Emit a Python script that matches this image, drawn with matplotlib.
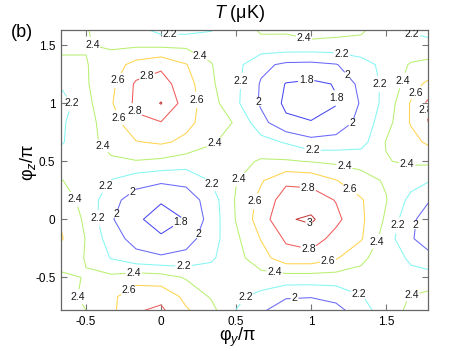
import numpy as np
import matplotlib
matplotlib.use("Agg")
import matplotlib.pyplot as plt

plt.rcParams['font.family'] = ['Liberation Sans', 'DejaVu Sans']
plt.rcParams['mathtext.fontset'] = 'custom'
plt.rcParams['mathtext.rm'] = 'Liberation Sans'
plt.rcParams['mathtext.it'] = 'Liberation Sans:italic'

# grid of phase values (units of pi)
phi_y = [-2/3, -1/2, -1/3, -1/6, 0, 1/6, 1/3, 1/2, 2/3, 5/6, 1, 7/6, 4/3, 3/2, 5/3, 11/6]
phi_z = [-5/6, -2/3, -1/2, -1/3, -1/6, 0, 1/6, 1/3, 1/2, 2/3, 5/6, 1, 7/6, 4/3, 3/2, 5/3]

# temperature T (uK), one row per phi_z value
T = [
    [2.23, 2.38, 2.55, 2.81, 2.88, 2.65, 2.52, 2.18, 1.98, 1.84, 1.82, 1.90, 2.05, 2.30, 2.47, 2.50],
    [2.30, 2.45, 2.55, 2.74, 2.74, 2.55, 2.38, 2.24, 2.14, 2.02, 2.01, 2.05, 2.19, 2.30, 2.41, 2.48],
    [2.36, 2.41, 2.44, 2.50, 2.48, 2.38, 2.30, 2.30, 2.33, 2.32, 2.32, 2.32, 2.34, 2.30, 2.25, 2.28],
    [2.50, 2.39, 2.19, 2.07, 2.03, 2.06, 2.17, 2.33, 2.52, 2.72, 2.72, 2.62, 2.44, 2.30, 2.17, 2.01],
    [2.62, 2.39, 2.10, 1.92, 1.84, 1.92, 2.11, 2.36, 2.61, 2.83, 2.90, 2.73, 2.62, 2.30, 2.02, 1.85],
    [2.58, 2.36, 2.02, 1.85, 1.68, 1.81, 2.08, 2.41, 2.70, 2.98, 3.03, 2.85, 2.64, 2.37, 2.04, 1.85],
    [2.50, 2.33, 2.07, 1.90, 1.83, 1.88, 2.10, 2.42, 2.66, 2.90, 2.90, 2.79, 2.62, 2.41, 2.14, 1.96],
    [2.41, 2.30, 2.19, 2.08, 2.03, 2.06, 2.21, 2.39, 2.58, 2.76, 2.74, 2.61, 2.47, 2.38, 2.28, 2.18],
    [2.30, 2.35, 2.37, 2.39, 2.36, 2.30, 2.30, 2.34, 2.42, 2.42, 2.39, 2.36, 2.34, 2.39, 2.43, 2.45],
    [2.18, 2.33, 2.47, 2.59, 2.63, 2.56, 2.42, 2.33, 2.27, 2.18, 2.06, 2.08, 2.12, 2.41, 2.52, 2.70],
    [2.17, 2.33, 2.50, 2.76, 2.79, 2.65, 2.51, 2.38, 2.07, 1.84, 1.81, 1.87, 2.07, 2.32, 2.62, 2.88],
    [2.10, 2.34, 2.58, 2.84, 3.01, 2.70, 2.48, 2.24, 1.97, 1.76, 1.72, 1.79, 2.02, 2.27, 2.62, 2.95],
    [2.23, 2.38, 2.55, 2.83, 2.88, 2.69, 2.43, 2.25, 1.98, 1.79, 1.76, 1.81, 2.06, 2.25, 2.50, 2.72],
    [2.35, 2.39, 2.50, 2.67, 2.76, 2.61, 2.41, 2.26, 2.05, 1.96, 1.95, 1.99, 2.12, 2.26, 2.42, 2.47],
    [2.45, 2.41, 2.37, 2.37, 2.36, 2.36, 2.33, 2.30, 2.32, 2.33, 2.33, 2.33, 2.33, 2.30, 2.26, 2.27],
    [2.50, 2.41, 2.27, 2.21, 2.08, 2.08, 2.15, 2.30, 2.46, 2.45, 2.55, 2.50, 2.46, 2.30, 2.16, 2.05],
]

levels = [1.8, 2.0, 2.2, 2.4, 2.6, 2.8, 3.0]
line_colors = ['#4848f0', '#6868f8', '#84f6f4', '#b8f070', '#ffd44e', '#f25a5a', '#c83c3c']

# where the contour labels sit, per level
label_spots = {
    1.8: [(0.97, 1.17), (1.14, 1.04), (0.14, -0.05)],
    2.0: [(1.25, 1.25), (0.64, 1.01), (1.29, 0.80), (-0.19, 0.23), (-0.31, 0.05),
          (0.27, -0.14), (1.69, -0.05), (0.89, -0.69)],
    2.2: [(0.06, 1.59), (1.67, 1.58), (1.2, 1.40), (-0.59, 1.0), (0.55, 1.19),
          (1.47, 1.17), (1.01, 0.6), (-0.38, 0.30), (0.34, 0.31), (-0.45, 0.01),
          (0.15, -0.42), (1.57, -0.05), (0.55, -0.66), (1.32, -0.64)],
    2.4: [(-0.47, 1.5), (0.27, 1.43), (0.95, 1.55), (1.6, 1.2), (-0.4, 0.62),
          (0.35, 0.67), (1.22, 0.44), (1.63, 0.41), (0.51, 0.36), (-0.58, 0.17),
          (1.43, -0.19), (0.76, -0.43), (-0.18, -0.5), (-0.55, -0.67), (1.67, -0.65)],
    2.6: [(-0.28, 1.19), (0.24, 1.03), (-0.29, 0.87), (1.69, 1.10), (0.6, 0.16),
          (1.25, 0.24), (1.11, -0.34), (-0.21, -0.63)],
    2.8: [(-0.09, 1.22), (-0.2, 0.92), (1.77, 0.94), (0.98, 0.26), (0.98, -0.28)],
    3.0: [(0.98, -0.07)],
}

fig = plt.figure(figsize=(4.74, 3.51), dpi=100)
ax = fig.add_axes([0.1287, 0.1168, 0.7743, 0.7977])
ax.set_xlim(-0.667, 1.78)
ax.set_ylim(-0.782, 1.632)

# one contour set per level so each label goes on the right line
for lev, col in zip(levels, line_colors):
    cs = ax.contour(phi_y, phi_z, np.array(T), levels=[lev], colors=[col],
                    linewidths=0.75)
    texts = ax.clabel(cs, manual=label_spots[lev], fmt='%g', fontsize=7.5,
                      colors=['#1a1a1a'], inline=True, inline_spacing=1)
    for t in texts:
        t.set_rotation(0)
        t.set_clip_path(ax.patch)

ax.set_xlim(-0.667, 1.78)
ax.set_ylim(-0.782, 1.632)
ax.set_xticks([-0.5, 0, 0.5, 1, 1.5])
ax.set_yticks([-0.5, 0, 0.5, 1, 1.5])
ax.set_xticklabels(['-0.5', '0', '0.5', '1', '1.5'])
ax.set_yticklabels(['-0.5', '0', '0.5', '1', '1.5'])
ax.tick_params(direction='in', top=True, right=True, length=4, width=0.8,
               color='#777777', labelsize=8.5, pad=4)
for sp in ax.spines.values():
    sp.set_color('#666666')
    sp.set_linewidth(0.9)

fig.text(0.506, 0.962, r'$T$ (μK)', ha='center', va='center', fontsize=13)
fig.text(0.046, 0.908, '(b)', ha='center', va='center', fontsize=13)
fig.text(0.502, 0.038, r'φ$_y$/π', ha='center', va='center', fontsize=13)
fig.text(0.061, 0.538, r'φ$_z$/π', ha='center', va='center', fontsize=13, rotation=90)

fig.savefig('out.png', dpi=100)
